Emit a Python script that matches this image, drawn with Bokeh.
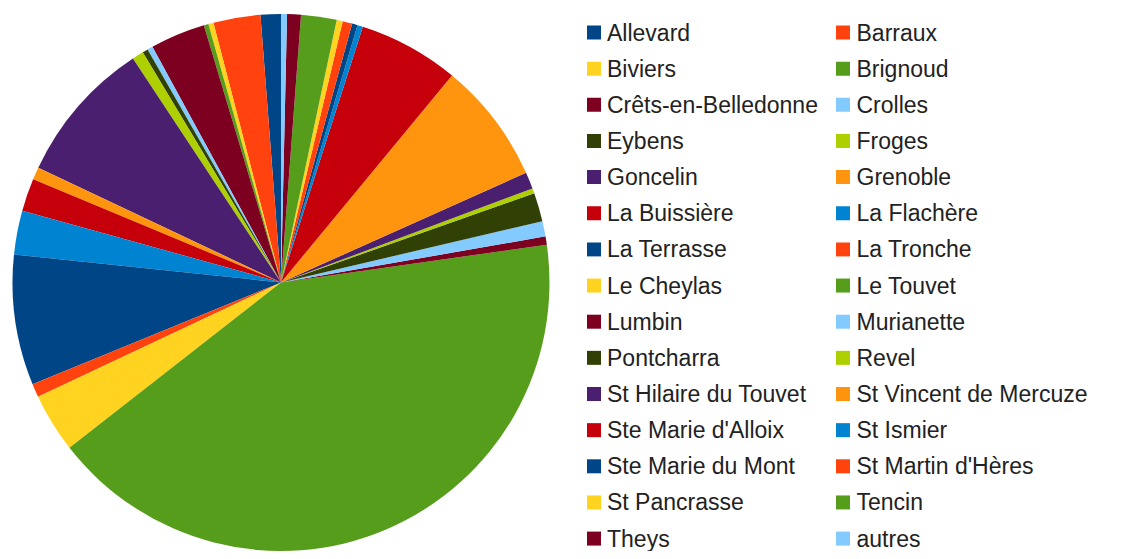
import numpy as np
from bokeh.plotting import figure
from bokeh.models import Range1d, ColumnDataSource
from bokeh.core.properties import value
from bokeh.embed import file_html
from bokeh.resources import INLINE

communes = ["Allevard", "Barraux", "Biviers", "Brignoud", "Crêts-en-Belledonne",
            "Crolles", "Eybens", "Froges", "Goncelin", "Grenoble",
            "La Buissière", "La Flachère", "La Terrasse", "La Tronche", "Le Cheylas",
            "Le Touvet", "Lumbin", "Murianette", "Pontcharra", "Revel",
            "St Hilaire du Touvet", "St Vincent de Mercuze", "Ste Marie d'Alloix", "St Ismier",
            "Ste Marie du Mont", "St Martin d'Hères", "St Pancrasse", "Tencin", "Theys", "autres"]

shares = [1.22, 2.83, 0.31, 0.28, 3.31,
          0.33, 0.33, 0.69, 8.67, 0.75,
          1.97, 2.64, 7.86, 0.81, 3.56,
          41.69, 0.50, 0.92, 1.72, 0.31,
          1.00, 7.31, 6.06, 0.33, 0.33,
          0.58, 0.36, 2.14, 0.83, 0.36]

palette = ["#004586", "#ff420e", "#ffd320", "#579d1c", "#7e0021", "#83caff",
           "#314004", "#aecf00", "#4b1f6f", "#ff950e", "#c5000b", "#0084d1"]

W, H = 1130, 551
p = figure(width=W, height=H, output_backend="svg", toolbar_location=None,
           x_range=Range1d(0, W), y_range=Range1d(0, H), min_border=0,
           match_aspect=False)
p.axis.visible = False
p.grid.visible = False
p.outline_line_color = None
p.background_fill_color = "white"

colors = [palette[i % len(palette)] for i in range(len(communes))]
vals = np.array(shares, dtype=float)
fr = vals / vals.sum() * 2 * np.pi
ends = np.cumsum(fr)
starts = ends - fr
# start at 12 o'clock, counterclockwise
src = ColumnDataSource(dict(start=np.pi / 2 + starts, end=np.pi / 2 + ends,
                            color=colors, name=communes))
cx, cy, r = 280.5, H - 282.0, 268.5
p.wedge(x=cx, y=cy, radius=r, start_angle="start", end_angle="end",
        fill_color="color", line_color=None, source=src)

# legend, two columns, row-major
n = len(communes)
idx = np.arange(n)
col = idx % 2
row = idx // 2
sq_x = np.where(col == 0, 593.5, 842.5)
tx = np.where(col == 0, 606.5, 856.0)
ly = H - (32.0 + 36.15 * row)
lsrc = ColumnDataSource(dict(sx=sq_x, tx=tx, y=ly, color=colors, name=communes))
p.rect(x="sx", y="y", width=14, height=14, width_units="screen", height_units="screen",
       fill_color="color", line_color=None, source=lsrc)
p.text(x="tx", y="y", text="name", source=lsrc, text_baseline="middle",
       text_align="left", text_font=value("Liberation Sans"), text_font_size="23px",
       text_color="#222222")

open("out.html", "w").write(file_html(p, INLINE))
